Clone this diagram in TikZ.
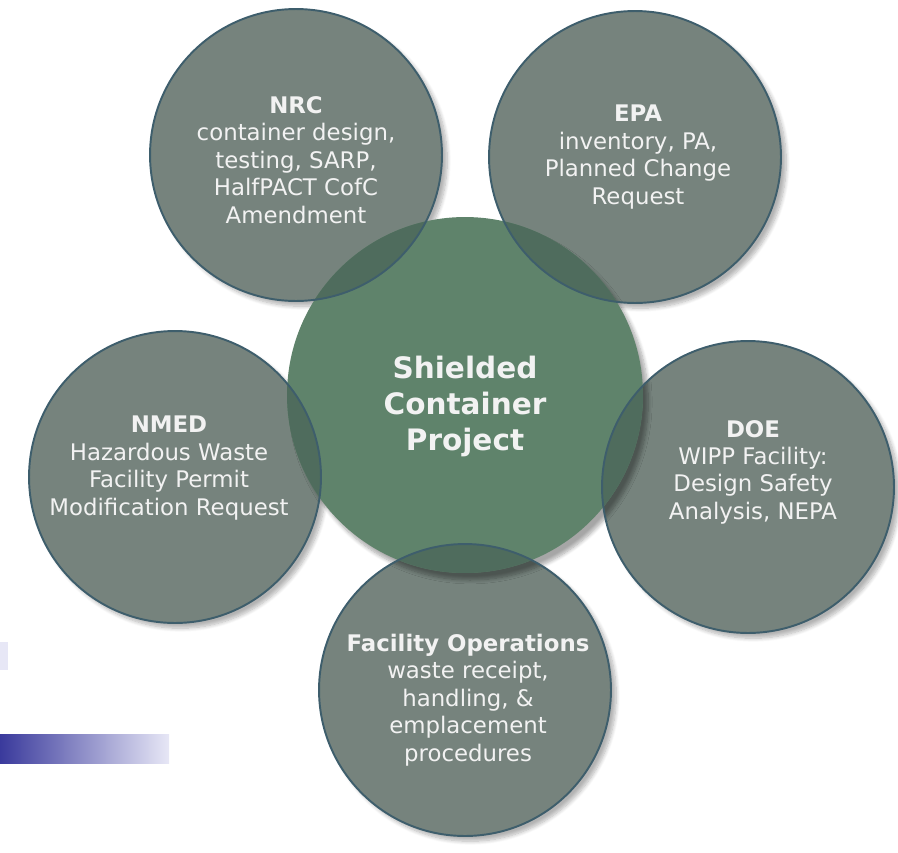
\documentclass[tikz,border=0pt]{standalone}
\usepackage{fontspec}
\setmainfont{DejaVu Sans}
\usepackage{xcolor}
\usetikzlibrary{shadows.blur}
\definecolor{satfill}{HTML}{76837D}
\definecolor{satline}{HTML}{3E5E6C}
\definecolor{hubfill}{HTML}{5F836B}
\definecolor{lensfill}{HTML}{4F6C5D}
\definecolor{txtcol}{HTML}{F2F2F2}
\definecolor{barblue}{HTML}{3A3A9C}
\definecolor{barpale}{HTML}{E7E7F6}

\begin{document}
\begin{tikzpicture}[x=0.02cm,y=-0.02cm,
		sat/.style={circle,minimum size=5.84cm,inner sep=0pt,fill=satfill,
			blur shadow={shadow xshift=3pt,shadow yshift=-3pt,shadow blur steps=8,shadow opacity=30}},
		hub/.style={circle,minimum size=7.12cm,inner sep=0pt,fill=hubfill,
			blur shadow={shadow xshift=3pt,shadow yshift=-4pt,shadow blur steps=8,shadow opacity=35}},
		lbl/.style={text=txtcol,align=center,font=\fontsize{13}{15.6}\selectfont},
		hublbl/.style={text=txtcol,align=center,font=\bfseries\fontsize{16.8}{20.5}\selectfont}]
		\useasboundingbox (0,0) rectangle (898,852);
		% OUTER CIRCLES
		\node[sat] (nrc) at (296,155) {};
		\node[sat] (epa) at (635,157) {};
		\node[sat] (nmed) at (175,477) {};
		\node[sat] (doe) at (748,487) {};
		\node[sat] (ops) at (465,690) {};
		% CENTRE
		\node[hub] (hub) at (465,395) {};
		\begin{scope}
			\clip (hub.center) circle[radius=3.56cm];
			\foreach \s in {nrc,epa,nmed,doe,ops}
				\fill[lensfill] (\s.center) circle[radius=2.92cm];
		\end{scope}
		\foreach \s in {nrc,epa,nmed,doe,ops}
			\draw[satline,line width=1.1pt] (\s.center) circle[radius=2.92cm];
		% LABELS
		\node[hublbl] (hub-t) at ([yshift=-0.22cm]hub.center) {Shielded\\Container\\Project};
		\node[lbl] (nrc-t) at ([yshift=-0.1cm]nrc.center) {\textbf{NRC}\\container design,\\testing, SARP,\\HalfPACT CofC\\Amendment};
		\node[lbl] (epa-t) at ([xshift=0.06cm]epa.center) {\textbf{EPA}\\inventory, PA,\\Planned Change\\Request};
		\node[lbl] (nmed-t) at ([xshift=-0.12cm,yshift=0.18cm]nmed.center) {\textbf{NMED}\\Hazardous Waste\\Facility Permit\\Modification Request};
		\node[lbl] (doe-t) at ([xshift=0.1cm,yshift=0.3cm]doe.center) {\textbf{DOE}\\WIPP Facility:\\Design Safety\\Analysis, NEPA};
		\node[lbl] (ops-t) at ([xshift=0.06cm,yshift=-0.2cm]ops.center) {\textbf{Facility Operations}\\waste receipt,\\handling, \&\\emplacement\\procedures};
		% BARS AT LEFT
		\fill[barpale] (0,642) rectangle (8,670);
		\shade[left color=barblue,right color=barpale] (0,734) rectangle (169,763);
\end{tikzpicture}
\end{document}
